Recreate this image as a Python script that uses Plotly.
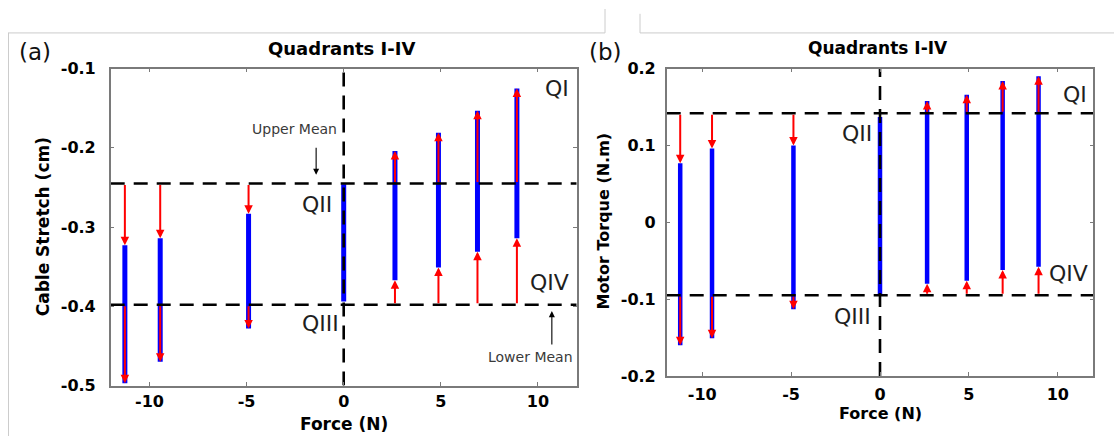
import plotly.graph_objects as go

W, H = 1114, 446

# ---- data: panel (a) cable stretch vs force ----
force_a = [-11.27, -9.45, -4.90, 0.0, 2.64, 4.88, 6.89, 8.92]
stretch_top = [-0.323, -0.314, -0.283, -0.246, -0.204, -0.181, -0.153, -0.125]
stretch_bottom = [-0.497, -0.470, -0.428, -0.394, -0.367, -0.351, -0.331, -0.314]
stretch_upper_mean = -0.245
stretch_lower_mean = -0.398

# ---- data: panel (b) motor torque vs force ----
force_b = [-11.24, -9.45, -4.87, 0.0, 2.65, 4.88, 6.90, 8.92]
torque_top = [0.077, 0.096, 0.100, 0.137, 0.158, 0.166, 0.184, 0.190]
torque_bottom = [-0.160, -0.151, -0.113, -0.095, -0.080, -0.076, -0.062, -0.058]
torque_upper_mean = 0.142
torque_lower_mean = -0.095

# ---- axes ----
force_range = [-12, 12]
stretch_range = [-0.5, -0.1]
torque_range = [-0.2, 0.2]
force_ticks = [-10, -5, 0, 5, 10]
force_ticktext = ["-10", "-5", "0", "5", "10"]
stretch_ticks = [-0.5, -0.4, -0.3, -0.2, -0.1]
stretch_ticktext = ["-0.5", "-0.4", "-0.3", "-0.2", "-0.1"]
torque_ticks = [-0.2, -0.1, 0, 0.1, 0.2]
torque_ticktext = ["-0.2", "-0.1", "0", "0.1", "0.2"]

# ---- quadrant labels ----
quad_names = ["QI", "QII", "QIII", "QIV"]
quad_a_x = [11.0, -1.36, -1.22, 10.58]
quad_a_y = [-0.125, -0.271, -0.422, -0.370]
quad_b_x = [10.95, -1.29, -1.53, 10.6]
quad_b_y = [0.166, 0.116, -0.123, -0.066]

# ---- mean callouts on panel (a) ----
mean_labels = ["Upper Mean", "Lower Mean"]
mean_label_x = [-2.51, 9.6]
mean_label_y = [-0.176, -0.464]
mean_arrow_x = [-1.42, 10.72]
mean_arrow_tail_y = [-0.198, -0.450]
mean_arrow_head_y = [-0.234, -0.406]

BLUE = "#0000ff"
RED = "#ff0000"
FRAME = "#7a7a7a"
BOLD = dict(family="DejaVu Sans", size=16, color="black", weight="bold")
LABEL_FONT = dict(family="DejaVu Sans", size=22, color="#1e1e1e")


def px_x(p):
    # pixel -> paper fraction
    return p / W


def px_y(p):
    return 1 - p / H


def segments(xs, y0s, y1s):
    sx, sy = [], []
    for x, a, b in zip(xs, y0s, y1s):
        sx += [x, x, None]
        sy += [a, b, None]
    return sx, sy


fig = go.Figure()
annotations = []


def add_panel(xa, ya, xs, tops, bottoms, upper, lower, xr, yr, bar_w):
    bx, by = segments(xs, tops, bottoms)
    fig.add_trace(go.Scatter(x=bx, y=by, mode="lines", xaxis=xa, yaxis=ya,
                             line=dict(color=BLUE, width=bar_w), hoverinfo="skip"))
    # mean levels and zero-force line
    fig.add_trace(go.Scatter(x=[xr[0], xr[1], None, xr[0], xr[1], None, 0, 0],
                             y=[upper, upper, None, lower, lower, None, yr[0], yr[1]],
                             mode="lines", xaxis=xa, yaxis=ya,
                             line=dict(color="black", width=2.6, dash="14px,9px"),
                             hoverinfo="skip"))
    # red arrows from each mean level to the bar ends
    span = yr[1] - yr[0]
    for x, t, b in zip(xs, tops, bottoms):
        for tail, head in ((upper, t), (lower, b)):
            if abs(head - tail) < 0.03 * span:
                continue
            annotations.append(dict(
                x=x, y=head, ax=x, ay=tail, xref=xa, yref=ya,
                axref=xa, ayref=ya, text="", showarrow=True,
                arrowhead=2, arrowsize=0.85, arrowwidth=2, arrowcolor=RED,
                standoff=0, startstandoff=0))


add_panel("x", "y", force_a, stretch_top, stretch_bottom,
          stretch_upper_mean, stretch_lower_mean, force_range, stretch_range, 5)
add_panel("x2", "y2", force_b, torque_top, torque_bottom,
          torque_upper_mean, torque_lower_mean, force_range, torque_range, 4.5)

# quadrant names
for name, x, y in zip(quad_names, quad_a_x, quad_a_y):
    annotations.append(dict(x=x, y=y, xref="x", yref="y", text=name, showarrow=False,
                            xanchor="center", yanchor="middle", font=LABEL_FONT))
for name, x, y in zip(quad_names, quad_b_x, quad_b_y):
    annotations.append(dict(x=x, y=y, xref="x2", yref="y2", text=name, showarrow=False,
                            xanchor="center", yanchor="middle", font=LABEL_FONT))

# mean callouts
for lab, lx, ly, axx, ty, hy in zip(mean_labels, mean_label_x, mean_label_y,
                                    mean_arrow_x, mean_arrow_tail_y, mean_arrow_head_y):
    annotations.append(dict(x=lx, y=ly, xref="x", yref="y", text=lab, showarrow=False,
                            xanchor="center", yanchor="middle",
                            font=dict(family="DejaVu Sans", size=14, color="#3a3a3a")))
    annotations.append(dict(x=axx, y=hy, ax=axx, ay=ty, xref="x", yref="y",
                            axref="x", ayref="y", text="", showarrow=True,
                            arrowhead=2, arrowsize=1.1, arrowwidth=1.1,
                            arrowcolor="black", standoff=0))


def paper_text(text, x, y, font, angle=0):
    annotations.append(dict(x=px_x(x), y=px_y(y), xref="paper", yref="paper",
                            text=text, showarrow=False, textangle=angle,
                            xanchor="center", yanchor="middle", borderpad=0,
                            font=font))


def bold(size):
    return dict(family="DejaVu Sans", size=size, color="black", weight="bold")


# titles, panel letters and axis titles
paper_text("Quadrants I-IV", 341, 41, bold(18))
paper_text("Quadrants I-IV", 878, 41, bold(17))
letter_font = dict(family="DejaVu Sans", size=23, color="#111111")
paper_text("(a)", 35, 45, letter_font)
paper_text("(b)", 605, 45, letter_font)
paper_text("Cable Stretch (cm)", 43, 228, bold(17), -90)
paper_text("Motor Torque (N.m)", 604, 222, bold(16), -90)
paper_text("Force (N)", 344, 433, bold(17))
paper_text("Force (N)", 880, 423, bold(16))

dom_a = [px_x(110.7), px_x(576.7)]
dom_b = [px_x(666.7), px_x(1093.3)]


def axis(dom, rng, tv, tt, anchor, standoff):
    return dict(domain=dom, range=rng, anchor=anchor, tickvals=tv, ticktext=tt,
                showline=True, linecolor=FRAME, linewidth=1.5, mirror="ticks",
                ticks="inside", ticklen=4, tickwidth=1, tickcolor=FRAME,
                showgrid=False, zeroline=False, tickfont=BOLD,
                ticklabelstandoff=standoff)


# light border lines of the figure panels
shapes = []
for x0, y0, x1, y1 in ((8.5, 25, 8.5, 446), (8, 25, 605, 25), (605, 0, 605, 25),
                       (640, 5, 640, 25), (640, 25, 1114, 25)):
    shapes.append(dict(type="line", xref="paper", yref="paper",
                       x0=px_x(x0), y0=px_y(y0), x1=px_x(x1), y1=px_y(y1),
                       line=dict(color="#cccccc", width=1)))

fig.update_layout(
    width=W, height=H, autosize=False,
    margin=dict(l=0, r=0, t=0, b=0),
    paper_bgcolor="white", plot_bgcolor="white",
    showlegend=False,
    xaxis=axis(dom_a, force_range, force_ticks, force_ticktext, "y", 1),
    yaxis=axis([px_y(393.3), px_y(62.3)], stretch_range, stretch_ticks,
               stretch_ticktext, "x", 10),
    xaxis2=axis(dom_b, force_range, force_ticks, force_ticktext, "y2", 3),
    yaxis2=axis([px_y(383.3), px_y(62.3)], torque_range, torque_ticks,
                torque_ticktext, "x2", 6),
    annotations=annotations,
    shapes=shapes,
)

fig.write_html("out.html")
